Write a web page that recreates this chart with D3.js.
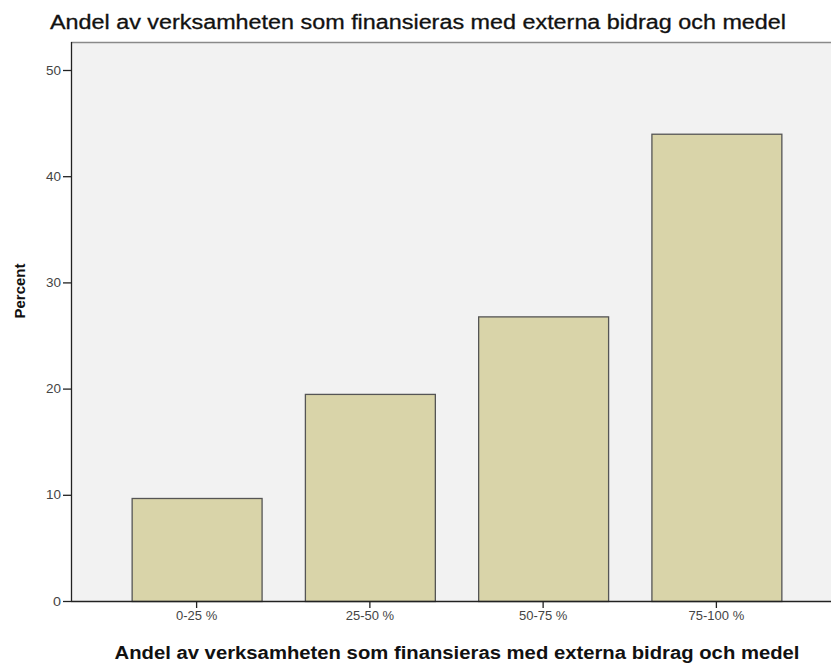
<!DOCTYPE html>
<html><head><meta charset="utf-8">
<script src="https://cdn.jsdelivr.net/npm/d3@7"></script>
<style>body{margin:0;background:#fff}svg{display:block}</style>
</head><body>
<svg id="c" width="831" height="665"></svg>
<script>
const categories = ["0-25 %", "25-50 %", "50-75 %", "75-100 %"];
const percent = [9.7, 19.5, 26.8, 44.0];
const yTicks = [0, 10, 20, 30, 40, 50];
const title = "Andel av verksamheten som finansieras med externa bidrag och medel";
const xTitle = "Andel av verksamheten som finansieras med externa bidrag och medel";
const yTitle = "Percent";

const svg = d3.select("#c");
const L = 71, R = 842, T = 42, B = 601;
const x = d3.scaleBand().domain(categories).range([L, R]).paddingInner(0.25).paddingOuter(0.35);
const y = d3.scaleLinear().domain([0, 50]).range([B, 70]);

svg.append("rect").attr("x", L).attr("y", T).attr("width", R - L).attr("height", B - T).attr("fill", "#f2f2f2");
svg.append("line").attr("x1", L).attr("x2", R).attr("y1", T + 0.5).attr("y2", T + 0.5).attr("stroke", "#8a8a8a").attr("stroke-width", 1.5);

svg.append("g").selectAll("rect").data(percent).join("rect")
  .attr("x", (d, i) => x(categories[i]) + 0.5)
  .attr("y", d => y(d) + 0.5)
  .attr("width", x.bandwidth())
  .attr("height", d => B - y(d))
  .attr("fill", "#d9d4a9").attr("stroke", "#555").attr("stroke-width", 1.3);

const ya = svg.append("g").attr("transform", `translate(${L},0)`)
  .call(d3.axisLeft(y).tickValues(yTicks).tickSize(8).tickPadding(2).tickFormat(d3.format("d")));
ya.select(".domain").attr("d", `M0.5,${T}V${B}`).attr("stroke", "#222").attr("stroke-width", 1.3);
ya.selectAll(".tick line").attr("stroke", "#222").attr("stroke-width", 1.3);
ya.selectAll("text").attr("font-family", "Liberation Sans, Arial, sans-serif").attr("font-size", 13).attr("fill", "#444")
  .attr("textLength", d => d === 0 ? 8 : 15).attr("lengthAdjust", "spacingAndGlyphs");

const xa = svg.append("g").attr("transform", `translate(0,${B})`)
  .call(d3.axisBottom(x).tickSize(7).tickPadding(3));
xa.select(".domain").attr("d", `M${L},0.5H${R}`).attr("stroke", "#222").attr("stroke-width", 1.3);
xa.selectAll(".tick line").attr("stroke", "#222").attr("stroke-width", 1.3);
xa.selectAll("text").attr("font-family", "Liberation Sans, Arial, sans-serif").attr("font-size", 13).attr("fill", "#444");

svg.append("text").attr("x", 418).attr("y", 29).attr("text-anchor", "middle")
  .attr("font-family", "Liberation Sans, Arial, sans-serif").attr("font-size", 20).attr("fill", "#111")
  .attr("stroke", "#111").attr("stroke-width", 0.3)
  .attr("textLength", 736).attr("lengthAdjust", "spacingAndGlyphs").text(title);
svg.append("text").attr("x", 457).attr("y", 659).attr("text-anchor", "middle")
  .attr("font-family", "Liberation Sans, Arial, sans-serif").attr("font-weight", "bold").attr("font-size", 18).attr("fill", "#111")
  .attr("textLength", 685).attr("lengthAdjust", "spacingAndGlyphs").text(xTitle);
svg.append("text").attr("transform", "translate(25,291) rotate(-90)").attr("text-anchor", "middle")
  .attr("font-family", "Liberation Sans, Arial, sans-serif").attr("font-weight", "bold").attr("font-size", 15).attr("fill", "#111")
  .text(yTitle);
</script>
</body></html>
